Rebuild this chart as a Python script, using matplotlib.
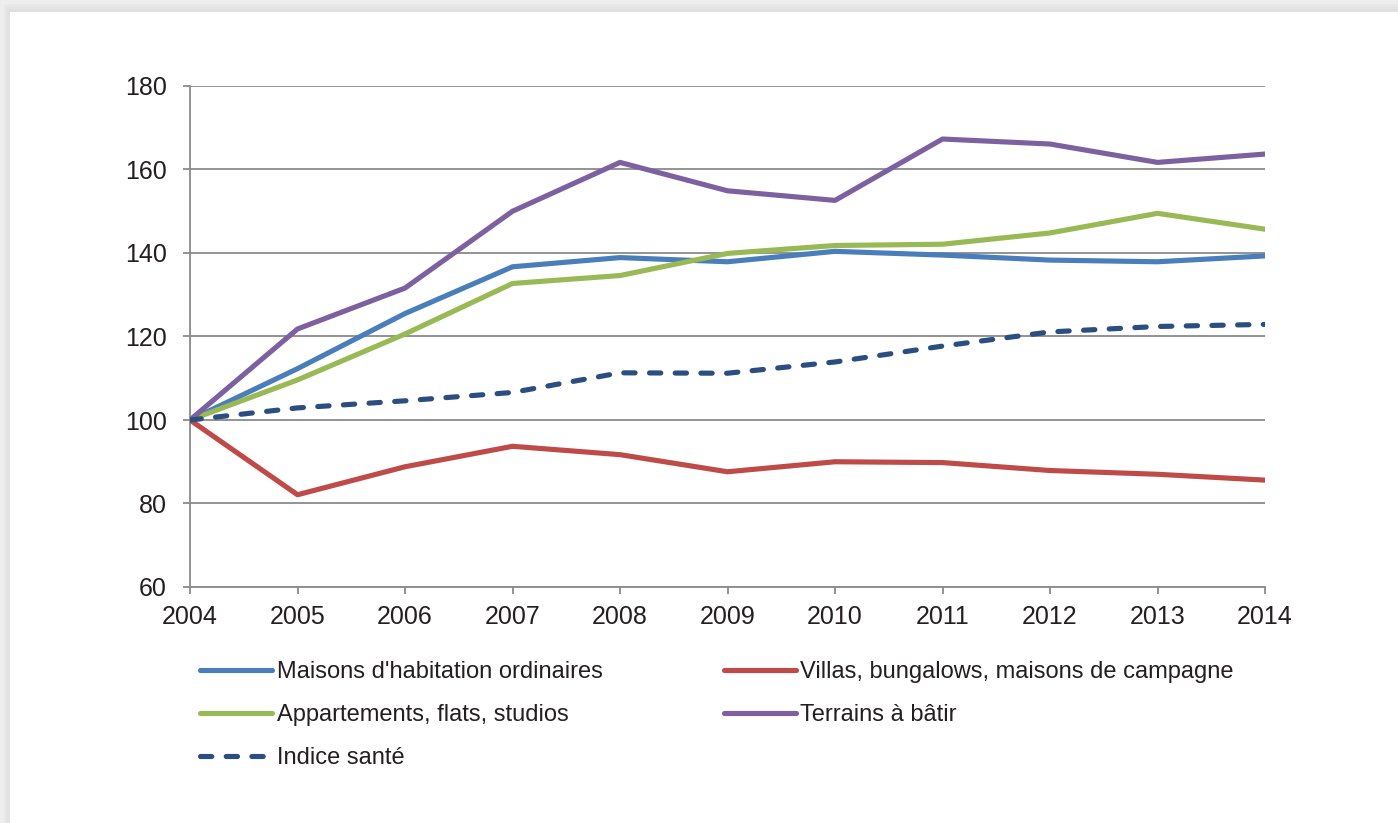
import matplotlib
matplotlib.use("Agg")
import matplotlib.pyplot as plt
from matplotlib.patches import Rectangle

plt.rcParams['font.family'] = ['Liberation Sans', 'DejaVu Sans']

years = [2004, 2005, 2006, 2007, 2008, 2009, 2010, 2011, 2012, 2013, 2014]

maisons = [100, 112.3, 125.5, 136.7, 138.9, 137.9, 140.4, 139.5, 138.3, 137.9, 139.3]
villas = [100, 82.1, 88.8, 93.7, 91.7, 87.6, 90.0, 89.8, 87.9, 87.0, 85.6]
appartements = [100, 109.6, 120.6, 132.7, 134.6, 139.9, 141.8, 142.1, 144.8, 149.5, 145.7]
terrains = [100, 121.8, 131.6, 150.0, 161.7, 154.9, 152.6, 167.3, 166.1, 161.7, 163.7]
indice_sante = [100, 102.9, 104.6, 106.6, 111.3, 111.2, 113.9, 117.7, 121.1, 122.4, 122.9]

W, H = 1398, 823
fig = plt.figure(figsize=(W / 100, H / 100), dpi=100, facecolor='white')

# soft grey frame on the top and left edges, drawn under the axes
for i, c in enumerate(['#dcdcdc', '#e2e2e2', '#e8e8e8', '#eeeeee']):
    fig.patches.append(Rectangle((0, 1 - (12 - i * 3) / H), 1, (12 - i * 3) / H,
                                 transform=fig.transFigure, color=c, zorder=-2))
    fig.patches.append(Rectangle((0, 0), (10 - i * 2.5) / W, 1,
                                 transform=fig.transFigure, color=c, zorder=-2))
fig.patches.append(Rectangle((10 / W, 0), 1, 1 - 12 / H,
                             transform=fig.transFigure, color='white', zorder=-1))

ax = fig.add_axes([190 / W, 1 - 587 / H, (1265 - 190) / W, (587 - 86) / H])
ax.set_facecolor('none')

lw = 3.7
l_maisons, = ax.plot(years, maisons, color='#4A7EBB', lw=lw, solid_capstyle='round', zorder=3)
l_villas, = ax.plot(years, villas, color='#BE4B48', lw=lw, solid_capstyle='round', zorder=3)
l_appart, = ax.plot(years, appartements, color='#98B954', lw=lw, solid_capstyle='round', zorder=3)
l_terrains, = ax.plot(years, terrains, color='#7D60A0', lw=lw, solid_capstyle='round', zorder=3)
l_indice, = ax.plot(years, indice_sante, color='#2B4D80', lw=lw, dashes=(2.2, 2.8),
                    dash_capstyle='round', zorder=4)

ax.set_xlim(2004, 2014)
ax.set_ylim(60, 180)
ax.set_xticks(years)
ax.set_yticks(range(60, 181, 20))

grid_c = '#8a8a8a'
ax.yaxis.grid(True, color=grid_c, lw=1.3)
ax.set_axisbelow(True)
for s in ['top', 'right']:
    ax.spines[s].set_visible(False)
for s in ['left', 'bottom']:
    ax.spines[s].set_color(grid_c)
    ax.spines[s].set_linewidth(1.3)
ax.tick_params(axis='both', colors=grid_c, length=5, width=1.3, labelsize=18,
               labelcolor='#231F20')
ax.tick_params(axis='y', pad=11.5)
ax.tick_params(axis='x', pad=8)

handles = [l_maisons, l_appart, l_indice, l_villas, l_terrains]
labels = ["Maisons d'habitation ordinaires", "Appartements, flats, studios", "Indice santé",
          "Villas, bungalows, maisons de campagne", "Terrains à bâtir"]
ax.legend(handles, labels, ncol=2, loc='upper left', bbox_to_anchor=(200 / W, 1 - 661 / H),
          bbox_transform=fig.transFigure, frameon=False, fontsize=17,
          handlelength=3.05, handletextpad=0.2, columnspacing=5.12, labelspacing=0.9,
          borderpad=0, borderaxespad=0, labelcolor='#231F20')

fig.savefig('out.png', dpi=100)
